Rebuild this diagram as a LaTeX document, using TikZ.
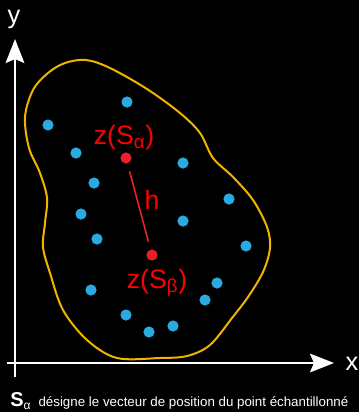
\documentclass[tikz,border=0pt]{standalone}
\usepackage{amsmath}
\usepackage{fontspec}
\setmainfont{Liberation Sans}
\usetikzlibrary{arrows.meta}
\definecolor{curveyel}{RGB}{240,180,0}
\definecolor{dotblue}{RGB}{41,171,226}
\definecolor{dotred}{RGB}{232,32,42}
\definecolor{txtred}{RGB}{255,0,0}
\tikzset{
  axis/.style={white, line width=1.6pt, -{Stealth[length=18pt,width=14pt,inset=3pt]}},
  sample/.style={circle, fill=dotblue, inner sep=0pt, minimum size=8.4pt},
  zdot/.style={circle, fill=dotred, inner sep=0pt, minimum size=8.4pt},
  redlabel/.style={text=txtred, font=\fontsize{20}{22}\selectfont, inner sep=0pt, anchor=base},
  axlabel/.style={text=white, font=\fontsize{19}{21}\selectfont, inner sep=0pt, anchor=base},
  region/.style={curveyel, line width=1.5pt},
  hline/.style={dotred, line width=1.2pt, shorten <=6pt, shorten >=6pt}
}
\begin{document}
\begin{tikzpicture}[x=0.75pt,y=-0.75pt]
\fill[black] (0,0) rectangle (359,412);
\useasboundingbox (0,0) rectangle (359,412);
\clip (0,0) rectangle (359,412);
% axes
\coordinate (yb) at (15,377);
\coordinate (yt) at (15,39);
\coordinate (xl) at (7,363);
\coordinate (xr) at (334,363);
\draw[axis] (yb) -- (yt);
\draw[axis] (xl) -- (xr);
\node[axlabel] (ylab) at (14,23) {y};
\node[axlabel] (xlab) at (352,370) {x};
% region
\draw[region] plot[smooth cycle, tension=0.55] coordinates {
 (86,60) (110,68) (147,89) (180,113) (200,133) (213,158) (233,177) (253,200)
 (267,227) (270,248) (263,272) (248,297) (232,318) (210,345) (187,356) (160,358)
 (117,358) (87,340) (63,310) (50,273) (43,247) (45,223) (47,198) (40,173)
 (29,148) (25,117) (33,90) (48,73) (65,63)};
% samples
\foreach \i/\p in {1/{(127,102)},2/{(48,125)},3/{(76,153)},4/{(183,163)},5/{(94,183)},
  6/{(229,199)},7/{(81,214)},8/{(183,221)},9/{(97,239)},10/{(246,246)},11/{(91,290)},
  12/{(217,283)},13/{(205,300)},14/{(126,315)},15/{(173,326)},16/{(149,332)}}
  \node[sample] (s\i) at \p {};
% z points
\node[zdot] (za) at (126,158) {};
\node[zdot] (zb) at (152,255) {};
\draw[hline] (za) -- (zb);
\node[redlabel] (la) at (124,144) {z(S$_{\text{α}}$)};
\node[redlabel] (lb) at (157,288) {z(S$_{\text{β}}$)};
\node[redlabel] (lh) at (152,209) {h};
% caption
\node[anchor=base west, inner sep=0pt, text=white] (cap) at (10,406)
  {{\fontsize{15}{16}\selectfont\bfseries S}{\fontsize{9}{10}\selectfont\raisebox{-0.5ex}{α}}\hspace{6pt}{\fontsize{10}{12}\selectfont désigne le vecteur de position du point échantillonné}};
\end{tikzpicture}
\end{document}
